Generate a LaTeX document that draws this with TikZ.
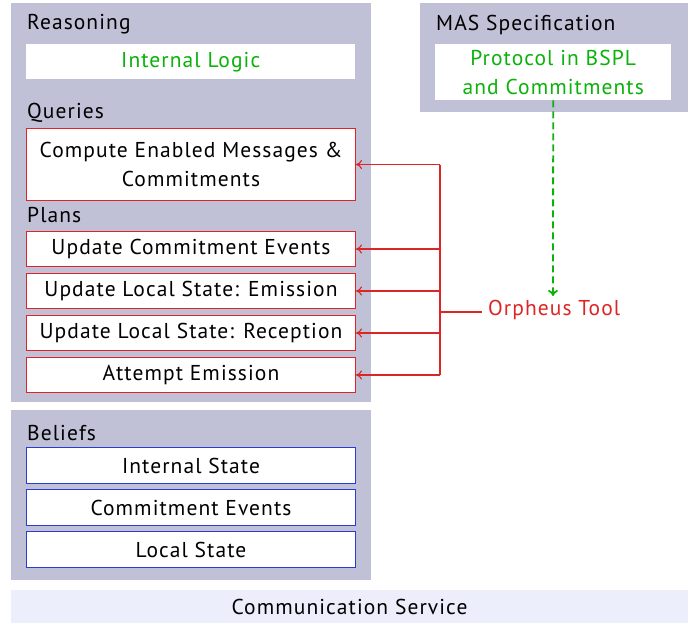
\documentclass[tikz,border=0pt]{standalone}
\usepackage{fontspec}
\setmainfont{PT Sans}[LetterSpace=5]
\usetikzlibrary{arrows.meta}
\definecolor{panel}{RGB}{192,192,214}
\definecolor{comm}{RGB}{237,238,252}
\definecolor{myred}{RGB}{221,37,37}
\definecolor{mygreen}{RGB}{10,178,10}
\definecolor{myblue}{RGB}{40,60,210}
\begin{document}
\begin{tikzpicture}[x=1pt,y=-1pt,
  font=\fontsize{21.5}{29}\selectfont,
  lbl/.style={anchor=base west, inner sep=0pt, text=black},
  wbox/.style={anchor=north west, fill=white, inner sep=0pt, minimum width=329pt, align=center},
  redbox/.style={wbox, draw=myred, line width=1pt},
  bluebox/.style={wbox, draw=myblue, line width=1pt},
  redarrow/.style={draw=myred, line width=1.1pt, -{To[length=6pt,width=9pt]}},
  redline/.style={draw=myred, line width=1.2pt},
  greenarrow/.style={draw=mygreen, line width=1.8pt, dash pattern=on 7pt off 4pt, -{To[length=6pt,width=10pt]}}]
\useasboundingbox (0,0) rectangle (695,623);
% panels
\fill[panel] (11,3) rectangle (371,402);
\fill[panel] (11,410) rectangle (371,580);
\fill[panel] (420,3) rectangle (688,112);
\fill[comm] (11,590) rectangle (688,623);
% labels
\node[lbl] (reasoning) at (27,30) {Reasoning};
\node[lbl] (queries) at (27,118) {Queries};
\node[lbl] (plans) at (27,222) {Plans};
\node[lbl] (beliefs) at (27,440) {Beliefs};
\node[lbl] (mas) at (436,31) {MAS Specification};
\node[inner sep=0pt] (comm) at (349.5,607) {Communication Service};
% reasoning boxes
\node[wbox, minimum height=35pt, text=mygreen] (logic) at (26,44) {Internal Logic};
\node[redbox, minimum height=72pt] (compute) at (26,128) {Compute Enabled Messages \&\\Commitments};
\node[redbox, minimum height=35pt] (upcommit) at (26,231) {Update Commitment Events};
\node[redbox, minimum height=35pt] (upemit) at (26,273) {Update Local State: Emission};
\node[redbox, minimum height=35pt] (uprecv) at (26,315) {Update Local State: Reception};
\node[redbox, minimum height=35pt] (attempt) at (26,357) {Attempt Emission};
% beliefs
\node[bluebox, minimum height=36pt] (istate) at (26,447) {Internal State};
\node[bluebox, minimum height=36pt] (cevents) at (26,489) {Commitment Events};
\node[bluebox, minimum height=36pt] (lstate) at (26,531) {Local State};
% MAS spec
\node[wbox, minimum width=236pt, minimum height=56pt, text=mygreen] (protocol) at (435,44) {Protocol in BSPL\\and Commitments};
% Orpheus
\node[anchor=west, inner sep=0pt, text=myred] (orpheus) at (488,310) {Orpheus Tool};
\coordinate (j) at (440,312);
\draw[redline, line width=1.8pt] (orpheus.west |- j) ++(-6,0) -- (j);
\draw[redline] (j) -- (j |- compute.east);
\draw[redline] (j) -- (j |- attempt.east);
\draw[redarrow] (j |- compute.east) -- (compute.east);
\draw[redarrow] (j |- upcommit.east) -- (upcommit.east);
\draw[redarrow] (j |- upemit.east) -- (upemit.east);
\draw[redarrow] (j |- uprecv.east) -- (uprecv.east);
\draw[redarrow] (j |- attempt.east) -- (attempt.east);
\coordinate (gend) at (553,296);
\draw[greenarrow] (protocol.south) -- (gend);
\end{tikzpicture}
\end{document}
